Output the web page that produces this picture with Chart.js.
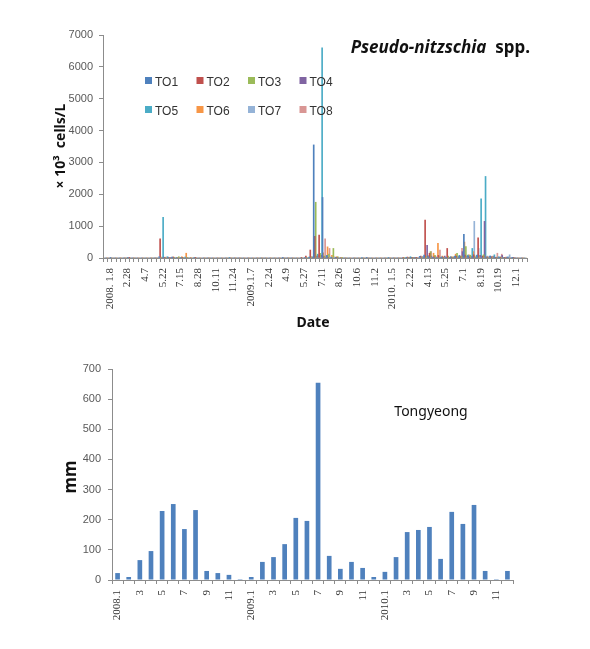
<!DOCTYPE html>
<html>
<head>
<meta charset="utf-8">
<script src="https://cdn.jsdelivr.net/npm/chart.js@4.4.1/dist/chart.umd.min.js"></script>
<style>
  body { margin: 0; background: #fff; }
  canvas { display: block; }
</style>
</head>
<body>
<canvas id="cellChart" width="590" height="340"></canvas>
<canvas id="rainChart" width="590" height="309"></canvas>
<script>
// sampling dates: one tick label every 4th sample
const dateTicks = ['2008. 1.8', '2.28', '4.7', '5.22', '7.15', '8.28', '10.11', '11.24',
  '2009.1.7', '2.24', '4.9', '5.27', '7.11', '8.26', '10.6', '11.2',
  '2010. 1.5', '2.22', '4.13', '5.25', '7.1', '8.19', '10.19', '12.1'];
const sampleCount = 96;

const stations = ['TO1', 'TO2', 'TO3', 'TO4', 'TO5', 'TO6', 'TO7', 'TO8'];
const stationColors = ['#4F81BD', '#C0504D', '#9BBB59', '#8064A2', '#4BACC6', '#F79646', '#95B3D7', '#D99694'];

// x10^3 cells/L
const TO1 = [0,0,10,0,0,0,0,0,0,0,0,0, 0,40,30,20,10,0,0,0,0,0,0,0, 0,0,0,0,0,0,0,0,0,0,0,0,
  0,0,0,0,0,10,0,0,0,0,20,30, 3550,0,1900,80,20,10,0,0,0,0,0,0, 10,0,0,0,0,0,0,0,0,20,10,0,
  50,90,30,20,0,30,20,40,60,80,740,60, 40,90,30,20,60,20,10,0,30,10,0,0];
const TO2 = [0,0,0,0,0,0,10,0,0,0,0,0, 0,600,20,10,30,0,20,0,0,10,0,0, 0,0,0,0,0,0,0,0,0,0,0,0,
  0,0,0,0,0,0,0,0,0,10,60,250, 680,720,40,20,0,10,0,0,0,0,0,0, 0,0,0,0,0,0,0,0,10,30,20,10,
  60,1190,150,40,80,30,300,20,60,40,90,30, 100,630,60,30,40,20,10,20,0,10,0,0];
const TO3 = [0,0,0,0,0,0,0,0,0,0,0,0, 0,30,20,0,10,40,20,10,0,0,0,0, 0,0,0,0,0,0,0,0,0,0,0,0,
  0,0,0,0,0,0,0,0,0,0,20,40, 1750,150,60,120,300,40,10,0,0,0,0,0, 0,0,0,0,0,0,0,0,10,20,10,0,
  30,60,200,80,40,20,60,30,150,60,360,90, 60,40,100,20,30,20,10,0,0,0,0,0];
const TO4 = [0,0,0,0,0,0,0,0,0,0,0,0, 0,20,0,10,0,0,0,0,0,0,0,0, 0,0,0,0,0,0,0,0,0,0,0,0,
  0,0,0,0,0,0,0,0,0,0,0,30, 60,80,20,0,0,0,0,0,0,0,0,0, 0,0,0,0,0,0,0,0,0,20,10,0,
  40,400,60,30,20,60,20,10,30,200,60,40, 20,80,1150,30,40,20,80,10,0,0,0,0];
const TO5 = [0,0,0,0,0,10,0,0,0,0,0,0, 0,1280,40,30,20,10,30,0,10,0,0,0, 0,0,0,0,10,0,0,0,0,0,0,0,
  0,0,0,0,0,0,0,0,0,0,10,40, 120,6600,60,30,10,0,0,0,0,0,10,0, 0,0,0,0,10,0,0,0,20,40,20,0,
  30,60,20,10,30,20,10,40,60,50,90,300, 80,1860,2560,60,100,40,20,30,10,0,0,0];
const TO6 = [0,0,0,0,0,0,0,0,0,0,0,0, 0,20,10,30,20,40,150,20,10,0,0,0, 0,0,0,0,0,0,0,0,0,0,0,0,
  0,0,0,0,0,0,0,0,0,0,30,100, 90,160,350,80,40,10,0,0,0,0,0,0, 0,0,0,0,0,0,0,0,0,10,20,0,
  20,80,150,460,60,30,40,120,60,500,100,200, 90,60,40,30,20,30,10,0,0,0,0,0];
const TO7 = [0,0,0,0,0,0,0,0,0,0,0,0, 0,10,0,20,0,0,10,0,0,0,0,0, 0,0,0,0,0,0,0,0,0,0,0,0,
  0,0,0,0,0,0,0,0,0,0,0,20, 40,60,30,0,20,0,0,0,0,0,0,0, 0,0,0,0,0,0,0,0,0,10,0,0,
  20,30,10,20,10,40,20,30,10,60,80,1150, 300,40,60,20,30,40,20,100,10,0,0,0];
const TO8 = [0,0,0,0,0,0,0,0,0,0,0,0, 0,30,10,0,10,20,0,0,0,0,0,0, 0,0,0,0,0,0,0,0,0,0,0,0,
  0,0,0,0,0,0,0,0,0,0,20,60, 100,600,300,40,10,0,0,0,0,0,0,0, 0,0,0,0,0,0,0,0,0,20,10,0,
  40,200,60,250,30,20,40,30,300,40,60,30, 40,20,30,60,150,120,30,20,10,0,0,0];
const cellTicks = [0, 1000, 2000, 3000, 4000, 5000, 6000, 7000];

// monthly rainfall, mm
const months = ['2008.1','','3','','5','','7','','9','','11','',
  '2009.1','','3','','5','','7','','9','','11','',
  '2010.1','','3','','5','','7','','9','','11',''];
const rainfall = [23,10,66,96,229,252,169,232,30,23,17,3,
  10,60,76,119,206,196,654,80,37,60,40,10,
  27,76,159,166,176,70,226,186,249,30,3,30];

const sampleLabels = [];
for (let i = 0; i < sampleCount; i++) {
  sampleLabels.push((i - 1) % 4 === 0 ? dateTicks[(i - 1) / 4] : '');
}
const stationData = [TO1, TO2, TO3, TO4, TO5, TO6, TO7, TO8];

const tickFont = { family: '"Liberation Serif", serif', size: 11 };
const numFont = { family: '"Liberation Sans", Arial, sans-serif', size: 11 };
const axisGrey = '#8c8c8c';

const cellText = {
  id: 'cellText',
  afterDraw(chart) {
    const ctx = chart.ctx;
    ctx.save();
    // legend, two rows of four
    ctx.textBaseline = 'middle';
    ctx.textAlign = 'left';
    ctx.font = '12px "Liberation Sans", Arial, sans-serif';
    chart.data.datasets.forEach((ds, i) => {
      const x = 145 + (i % 4) * 51.5;
      const y = 82 + Math.floor(i / 4) * 29;
      ctx.fillStyle = ds.backgroundColor;
      ctx.fillRect(x, y - 5, 7, 7);
      ctx.fillStyle = '#333';
      ctx.fillText(ds.label, x + 10, y + 1);
    });
    // title
    ctx.fillStyle = '#111';
    ctx.textAlign = 'right';
    ctx.font = 'bold 17px "Noto Sans", sans-serif';
    const spp = '  spp.';
    ctx.fillText(spp, 530, 48);
    const w = ctx.measureText(spp).width;
    ctx.font = 'italic bold 17px "Noto Sans", sans-serif';
    ctx.fillText('Pseudo-nitzschia', 530 - w, 48);
    // axis titles
    ctx.textAlign = 'center';
    ctx.font = 'bold 14px "Noto Sans", sans-serif';
    ctx.fillText('Date', 313, 323);
    ctx.translate(61, 146);
    ctx.rotate(-Math.PI / 2);
    ctx.fillText('× 10³  cells/L', 0, 0);
    ctx.restore();
  }
};

new Chart(document.getElementById('cellChart'), {
  type: 'bar',
  data: {
    labels: sampleLabels,
    datasets: stations.map((name, i) => ({
      label: name,
      data: stationData[i],
      backgroundColor: stationColors[i],
      barThickness: 1
    }))
  },
  options: {
    responsive: false,
    animation: false,
    layout: { padding: { left: 43, right: 63, top: 35, bottom: 0 } },
    plugins: { legend: { display: false }, tooltip: { enabled: false } },
    scales: {
      x: {
        grid: { offset: true, drawOnChartArea: false, tickLength: 4, color: axisGrey },
        border: { color: axisGrey },
        ticks: {
          autoSkip: false, minRotation: 90, maxRotation: 90, padding: 6,
          font: tickFont, color: '#333',
          callback: (v, i) => sampleLabels[i]
        },
        afterFit: (s) => { s.height = 82; }
      },
      y: {
        min: 0, max: 7000,
        afterBuildTicks: (s) => { s.ticks = cellTicks.map(v => ({ value: v })); },
        grid: { drawOnChartArea: false, tickLength: 4, color: axisGrey },
        border: { color: axisGrey },
        ticks: { font: numFont, color: '#595959', padding: 6, callback: (v) => String(v) },
        afterFit: (s) => { s.width = 60; }
      }
    }
  },
  plugins: [cellText]
});

const rainText = {
  id: 'rainText',
  afterDraw(chart) {
    const ctx = chart.ctx;
    ctx.save();
    ctx.fillStyle = '#111';
    ctx.textAlign = 'center';
    ctx.textBaseline = 'middle';
    ctx.font = '14px "Noto Sans", sans-serif';
    ctx.fillText('Tongyeong', 431, 72);
    ctx.font = 'bold 17px "Noto Sans", sans-serif';
    ctx.translate(71, 137);
    ctx.rotate(-Math.PI / 2);
    ctx.fillText('mm', 0, 0);
    ctx.restore();
  }
};

new Chart(document.getElementById('rainChart'), {
  type: 'bar',
  data: {
    labels: months,
    datasets: [{ label: 'Tongyeong', data: rainfall, backgroundColor: '#4F81BD',
      barPercentage: 0.42, categoryPercentage: 1 }]
  },
  options: {
    responsive: false,
    animation: false,
    layout: { padding: { left: 52, right: 77, top: 29, bottom: 0 } },
    plugins: { legend: { display: false }, tooltip: { enabled: false } },
    scales: {
      x: {
        grid: { offset: true, drawOnChartArea: false, tickLength: 4, color: axisGrey },
        border: { color: axisGrey },
        ticks: {
          autoSkip: false, minRotation: 90, maxRotation: 90, padding: 6,
          font: tickFont, color: '#333'
        },
        afterFit: (s) => { s.height = 69; }
      },
      y: {
        min: 0, max: 700,
        ticks: { stepSize: 100, font: numFont, color: '#595959', padding: 7 },
        grid: { drawOnChartArea: false, tickLength: 4, color: axisGrey },
        border: { color: axisGrey },
        afterFit: (s) => { s.width = 60; }
      }
    }
  },
  plugins: [rainText]
});
</script>
</body>
</html>
